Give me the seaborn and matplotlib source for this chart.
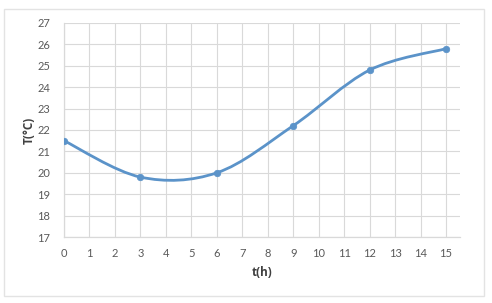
import matplotlib
matplotlib.use("Agg")
import matplotlib.pyplot as plt
import seaborn as sns
import numpy as np
import pandas as pd
from matplotlib.path import Path
from matplotlib.patches import PathPatch, Rectangle

t_hours = [0, 3, 6, 9, 12, 15]
temps = [21.5, 19.8, 20.0, 22.2, 24.8, 25.8]
x_ticks = list(range(0, 16))
y_ticks = list(range(17, 28))

sns.set_theme(style="white")
plt.rcParams['font.family'] = ['Lato', 'DejaVu Sans']

line_color = "#5B93C9"
grid_color = "#D9D9D9"
text_color = "#595959"

fig = plt.figure(figsize=(4.92, 3.03), dpi=100)
ax = fig.add_axes([64/492, 1-237/303, (460-64)/492, (237-23)/303])

df = pd.DataFrame({"t": t_hours, "T": temps})

# Smoothed curve (Excel-style Catmull-Rom bezier) through the data points
xs = np.array(t_hours, float)
ys = np.array(temps, float)
n = len(xs)
verts = [(xs[0], ys[0])]
codes = [Path.MOVETO]
for i in range(n - 1):
    p0 = np.array([xs[max(i-1, 0)], ys[max(i-1, 0)]])
    p1 = np.array([xs[i], ys[i]])
    p2 = np.array([xs[i+1], ys[i+1]])
    p3 = np.array([xs[min(i+2, n-1)], ys[min(i+2, n-1)]])
    c1 = p1 + (p2 - p0) / 6
    c2 = p2 - (p3 - p1) / 6
    verts += [tuple(c1), tuple(c2), tuple(p2)]
    codes += [Path.CURVE4] * 3
ax.add_patch(PathPatch(Path(verts, codes), facecolor="none", edgecolor=line_color,
                       lw=2.0, zorder=3, capstyle="round"))

sns.scatterplot(data=df, x="t", y="T", ax=ax, color=line_color, s=22,
                edgecolor=line_color, linewidth=0.5, zorder=4, legend=False)

ax.set_xlim(0, 15.55)
ax.set_ylim(17, 27)
ax.set_xticks(x_ticks)
ax.set_yticks(y_ticks)
ax.set_xticklabels([str(v) for v in x_ticks])
ax.set_yticklabels([str(v) for v in y_ticks])
ax.grid(True, color=grid_color, lw=0.8)
ax.set_axisbelow(True)
for s in ["top", "right"]:
    ax.spines[s].set_visible(False)
for s in ["left", "bottom"]:
    ax.spines[s].set_color(grid_color)
    ax.spines[s].set_linewidth(0.9)
ax.tick_params(axis="both", length=0, labelsize=8, labelcolor=text_color)
ax.tick_params(axis="x", pad=8)
ax.tick_params(axis="y", pad=10)
ax.set_xlabel("t(h)", fontsize=8.5, fontweight="bold", color="#404040", labelpad=5,
              family=["Open Sans", "DejaVu Sans"])
ax.set_ylabel("T(°C)", fontsize=8.5, fontweight="bold", color="#404040", labelpad=1,
              family=["Open Sans", "DejaVu Sans"])

fig.patches.append(Rectangle((4/492, 1-296/303), (484-4)/492, (296-9)/303,
                             transform=fig.transFigure, fill=False,
                             edgecolor="#E3E3E3", lw=1.0))

fig.savefig("out.png", dpi=100)
